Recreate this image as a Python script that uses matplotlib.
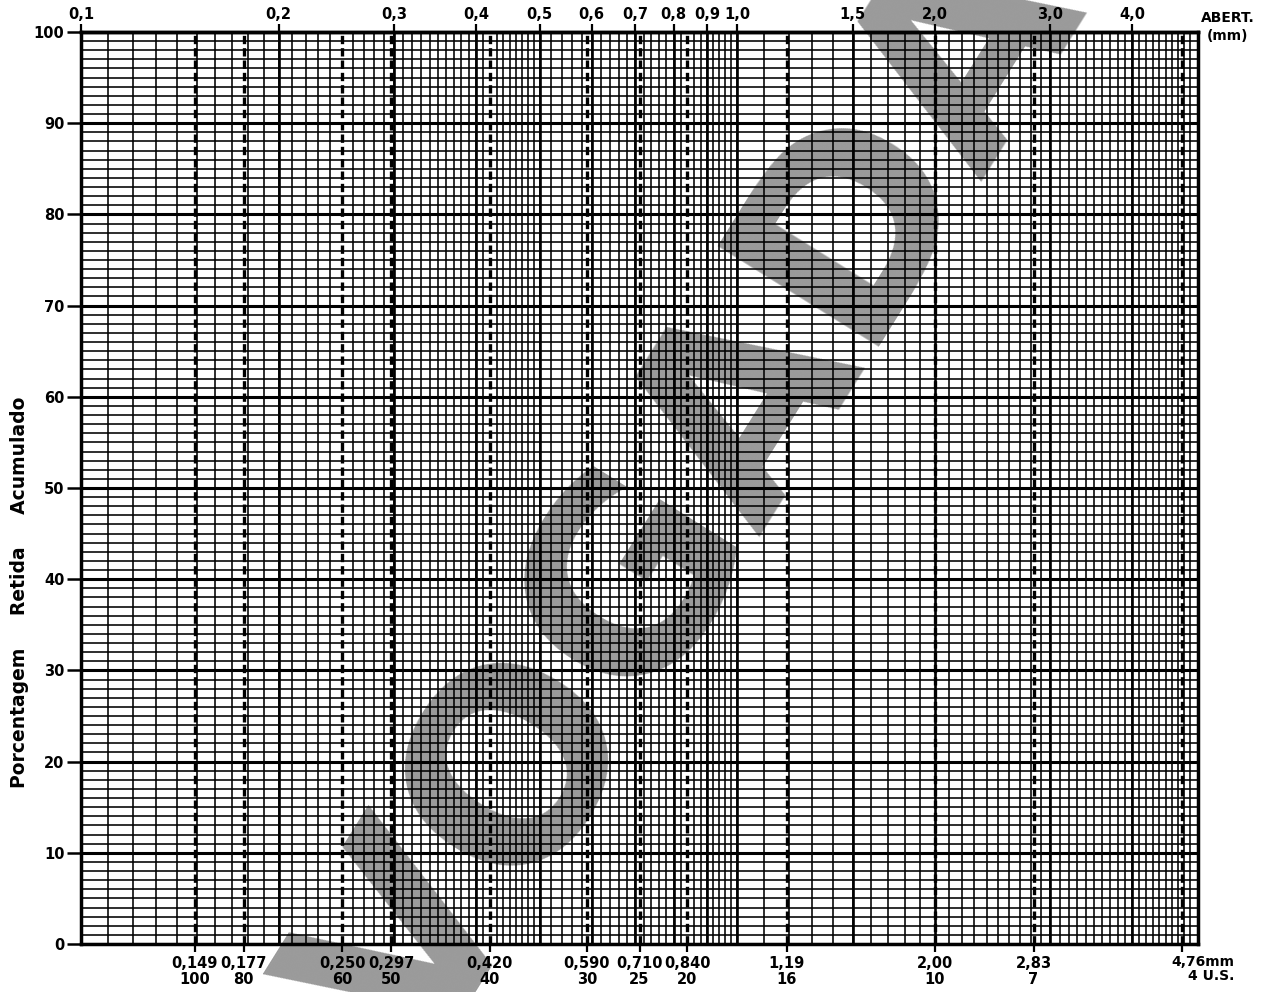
import numpy as np
import matplotlib
matplotlib.use("Agg")
import matplotlib.pyplot as plt
from matplotlib.ticker import FixedLocator, NullFormatter, NullLocator

# aberturas (mm) escritas no topo do papel
top_ticks = [0.1, 0.2, 0.3, 0.4, 0.5, 0.6, 0.7, 0.8, 0.9, 1.0, 1.5, 2.0, 3.0, 4.0]
top_labels = ["0,1", "0,2", "0,3", "0,4", "0,5", "0,6", "0,7", "0,8", "0,9",
              "1,0", "1,5", "2,0", "3,0", "4,0"]

# peneiras: abertura (mm) e numero U.S.
sieve_mm = [0.149, 0.177, 0.250, 0.297, 0.420, 0.590, 0.710, 0.840, 1.19, 2.00, 2.83, 4.76]
sieve_mm_labels = ["0,149", "0,177", "0,250", "0,297", "0,420", "0,590", "0,710",
                   "0,840", "1,19", "2,00", "2,83", "4,76mm"]
sieve_num = ["100", "80", "60", "50", "40", "30", "25", "20", "16", "10", "7", "4 U.S."]

pct_ticks = [0, 10, 20, 30, 40, 50, 60, 70, 80, 90, 100]

# subdivisoes do papel semilog: (inicio, fim, passo)
grid_bands = [(0.10, 0.50, 0.01), (0.50, 1.00, 0.02), (1.0, 5.0, 0.1)]

plt.rcParams['font.family'] = ['DejaVu Sans']
plt.rcParams['font.weight'] = 'bold'

W, H = 1271, 992
fig = plt.figure(figsize=(W / 100, H / 100), dpi=100)
fig.patch.set_facecolor('white')
ax = fig.add_axes([81 / W, 48 / H, 1117 / W, 912 / H])
ax.patch.set_alpha(0)

ax.set_xscale('log')
ax.set_xlim(0.1, 5.04)
ax.set_ylim(0, 100)

# linhas finas do papel
xminor = np.concatenate([np.arange(a, b, s) for a, b, s in grid_bands])
ax.xaxis.set_minor_locator(FixedLocator(xminor))
ax.xaxis.set_minor_formatter(NullFormatter())
ax.yaxis.set_minor_locator(FixedLocator(np.arange(0, 101, 1)))
ax.grid(which='minor', color='black', lw=1.15)
ax.grid(which='major', axis='y', color='black', lw=2.2)
ax.tick_params(which='minor', length=0)

for v in top_ticks:
    ax.axvline(v, color='black', lw=1.9, zorder=2)
for v in sieve_mm:
    ax.axvline(v, color='black', lw=2.4, ls=(0, (2.5, 1.2)), zorder=2)

# eixo de baixo: peneiras
ax.set_xticks(sieve_mm)
bottom_labels = [f"{a}\n{b}" for a, b in zip(sieve_mm_labels, sieve_num)]
bottom_labels[-1] = ""
ax.set_xticklabels(bottom_labels, linespacing=1.0)
ax.tick_params(axis='x', which='major', direction='out', length=6, width=1.6,
               pad=3, labelsize=10.5)
ax.annotate(f"{sieve_mm_labels[-1]}\n{sieve_num[-1]}", xy=(sieve_mm[-1], 0),
            xycoords=('data', 'axes fraction'), xytext=(38, -8),
            textcoords='offset points', ha='right', va='top',
            multialignment='right', fontsize=10, linespacing=1.0)

# eixo de cima: aberturas
top = ax.secondary_xaxis('top')
top.set_xticks(top_ticks)
top.set_xticklabels(top_labels)
top.xaxis.set_minor_locator(NullLocator())
top.tick_params(axis='x', direction='out', length=6, width=1.6, pad=1, labelsize=10.5)
top.spines['top'].set_linewidth(2.5)

ax.set_yticks(pct_ticks)
ax.tick_params(axis='y', direction='out', length=10, width=1.8, pad=2, labelsize=10.5)
for s in ax.spines.values():
    s.set_linewidth(2.5)

ax.set_ylabel("Porcentagem     Retida     Acumulado", fontsize=13.5, fontweight='bold')
ax.yaxis.set_label_coords(-0.047, 0.386)

fig.text(1228 / W, 1 - 27 / H, "ABERT.\n(mm)", ha='center', va='center',
         fontsize=10, linespacing=1.4)

# marca d'agua
fig.text(584 / W, 1 - 646 / H, "REVOGADA", rotation=58, rotation_mode='anchor',
         ha='center', va='center', fontsize=188, color='#9a9a9a', zorder=-1)

fig.savefig("out.png", dpi=100)
